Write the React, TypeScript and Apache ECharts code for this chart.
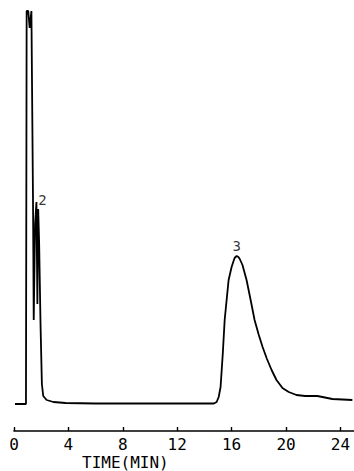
import React, { useEffect, useRef } from "react";
import * as echarts from "echarts";

// retention time (min) and detector response (arbitrary units, baseline = 0)
const timeMin: number[] = [
  0.07, 0.88, 0.93, 1.05, 1.15, 1.28, 1.4, 1.45, 1.55, 1.65, 1.72, 1.78, 1.85, 1.95, 2.05, 2.15, 2.4, 2.9, 3.8, 6.0,
  9.0, 12.0, 14.7, 14.9, 15.05, 15.19, 15.35, 15.49, 15.78, 16.0, 16.12, 16.22, 16.37, 16.5, 16.6, 16.8, 17.1, 17.4,
  17.69, 18.0, 18.28, 18.6, 18.94, 19.3, 19.74, 20.2, 20.77, 21.4, 21.94, 22.3, 22.68, 23.41, 24.88,
];
const response: number[] = [
  0, 0, 393, 393, 376, 393, 200, 84, 180, 202, 100, 195, 160, 80, 20, 8, 4, 2, 1, 0.5,
  0.5, 0.5, 0.5, 2, 7, 17, 50, 84, 124, 137, 142, 146, 148, 147, 145, 139, 124, 104,
  84, 69, 57, 45, 34, 24, 16, 12, 9, 8, 8, 8, 7, 5, 4,
];
const peakNames: string[] = ["2", "3"];
const peakTimes: number[] = [1.65, 16.37];
const peakHeights: number[] = [202, 148];
const tickValues: number[] = [0, 4, 8, 12, 16, 20, 24];
const axisTitle = "TIME(MIN)";

export default function App() {
  const ref = useRef<HTMLDivElement>(null);
  useEffect(() => {
    if (!ref.current) return;
    const chart = echarts.init(ref.current, undefined, { renderer: "svg" });
    const font = "'DejaVu Sans Mono', monospace";
    chart.setOption({
      animation: false,
      backgroundColor: "#ffffff",
      grid: { left: 14, right: 0, top: 10, bottom: 40 },
      xAxis: {
        type: "value",
        min: 0,
        max: 25,
        interval: 4,
        splitLine: { show: false },
        axisLine: { onZero: false, lineStyle: { color: "#000", width: 1.6 } },
        axisTick: { inside: true, length: 4, customValues: tickValues, lineStyle: { color: "#000", width: 1.4 } },
        axisLabel: {
          customValues: tickValues,
          color: "#000",
          fontFamily: font,
          fontSize: 16,
          margin: 5,
        },
      },
      yAxis: {
        type: "value",
        min: -27,
        max: 394,
        show: false,
        splitLine: { show: false },
      },
      graphic: [
        {
          type: "text",
          left: 82,
          top: 454,
          style: { text: axisTitle, fill: "#000", font: "16px 'DejaVu Sans Mono', monospace" },
        },
      ],
      series: [
        {
          type: "line",
          data: timeMin.map((t, i) => [t, response[i]]),
          showSymbol: false,
          symbol: "none",
          lineStyle: { color: "#000", width: 1.8 },
          smooth: false,
        },
        {
          type: "scatter",
          symbolSize: 0,
          data: peakNames.map((n, i) => ({ value: [peakTimes[i], peakHeights[i]], name: n })),
          label: {
            show: true,
            formatter: (p: any) => p.name,
            color: "#000",
            fontFamily: font,
            fontSize: 14,
            position: "top",
            distance: 3,
          },
          labelLayout: (p: any) => (p.dataIndex === 0 ? { dx: 6, dy: 8 } : {}),
        },
      ],
    });
    return () => chart.dispose();
  }, []);
  return <div ref={ref} style={{ position: "absolute", left: 0, top: 0, width: 354, height: 471 }} />;
}
